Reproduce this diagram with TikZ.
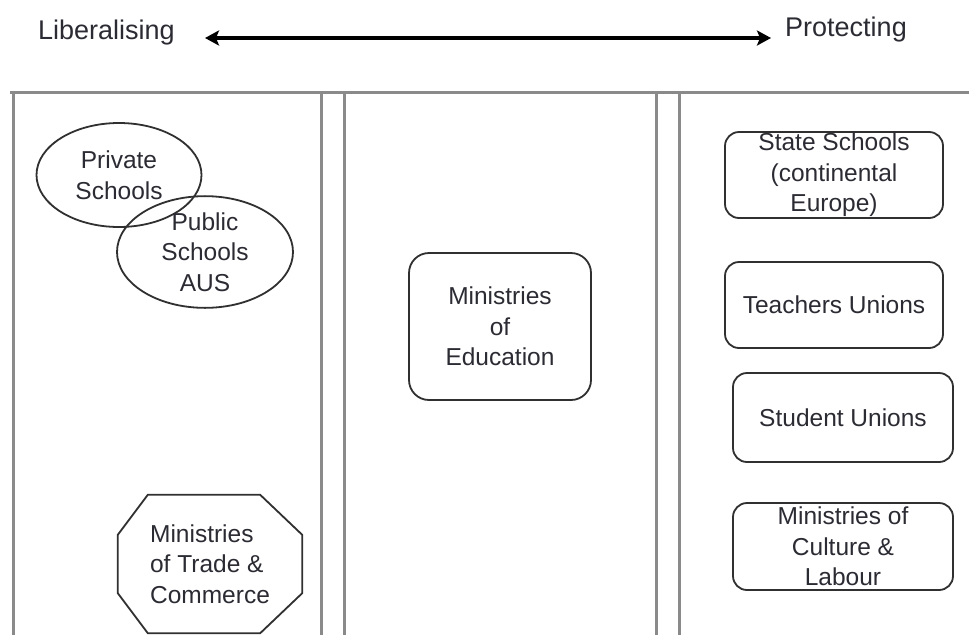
\documentclass[tikz,border=0pt]{standalone}
\usepackage{fontspec}
\setmainfont{Liberation Sans}
\usetikzlibrary{shapes.geometric,arrows.meta,calc}
\definecolor{txtcol}{HTML}{2B2B33}
\definecolor{shapecol}{HTML}{303030}
\definecolor{framecol}{HTML}{8A8A8A}
\begin{document}
\begin{tikzpicture}[x=1pt,y=-1pt,
  lbl/.style={font=\fontsize{24.5}{30.5}\selectfont, text=txtcol, inner sep=0pt},
  toplbl/.style={font=\fontsize{27}{32}\selectfont, text=txtcol, inner sep=0pt},
  oval/.style={lbl, ellipse, draw=shapecol, line width=1.8pt, align=center},
  rbox/.style={lbl, rectangle, rounded corners=14pt, draw=shapecol, line width=1.8pt, align=center},
  octo/.style={lbl, rectangle, align=left},
  frameline/.style={draw=framecol, line width=3pt},
  outline/.style={draw=shapecol, line width=1.8pt},
  bigarrow/.style={line width=3.5pt, draw=black, {Stealth[length=14pt,width=15pt,inset=3pt]}-{Stealth[length=14pt,width=15pt,inset=3pt]}}
]
\useasboundingbox (0,0) rectangle (969,635);
\fill[white] (0,0) rectangle (969,635);

% frame
\draw[frameline] (10,92) -- (969,92);
\draw[frameline] (13,92) -- (13,635);
\draw[frameline] (321,92) -- (321,635);
\draw[frameline] (344,92) -- (344,635);
\draw[frameline] (656,92) -- (656,635);
\draw[frameline] (679,92) -- (679,635);

% axis
\node[toplbl, anchor=west] (lib) at (38,33) {Liberalising};
\node[toplbl, anchor=west] (prot) at (785,30) {Protecting};
\coordinate (aL) at (205,38);
\coordinate (aR) at (771,38);
\draw[bigarrow] (aL) -- (aR);

% left column
\node[oval, minimum width=165pt, minimum height=104pt] (priv) at (119,175) {Private\\Schools};
\node[oval, minimum width=176pt, minimum height=100pt] (pub) at (205,252) {Public\\Schools\\AUS};
\node[octo, minimum width=184pt, minimum height=138pt] (trade) at (210,564) {Ministries\\of Trade \&\\Commerce};
\draw[outline] ($(trade.north west)+(30,0)$) -- ($(trade.north east)+(-42,0)$)
  -- ($(trade.north east)+(0,40)$) -- ($(trade.south east)+(0,-40)$)
  -- ($(trade.south east)+(-42,0)$) -- ($(trade.south west)+(30,0)$)
  -- ($(trade.south west)+(0,-40)$) -- ($(trade.north west)+(0,40)$) -- cycle;

% middle column
\node[rbox, rounded corners=20pt, minimum width=182pt, minimum height=147pt] (edu) at (500,326.5) {Ministries\\of\\Education};

% right column
\node[rbox, minimum width=218pt, minimum height=86pt] (state) at (834,175) {State Schools\\(continental\\Europe)};
\node[rbox, minimum width=218pt, minimum height=86pt] (teach) at (834,305) {Teachers Unions};
\node[rbox, minimum width=220pt, minimum height=89pt] (stud) at (843,417.5) {Student Unions};
\node[rbox, minimum width=220pt, minimum height=87pt] (cult) at (843,546.5) {Ministries of\\Culture \&\\Labour};
\end{tikzpicture}
\end{document}
